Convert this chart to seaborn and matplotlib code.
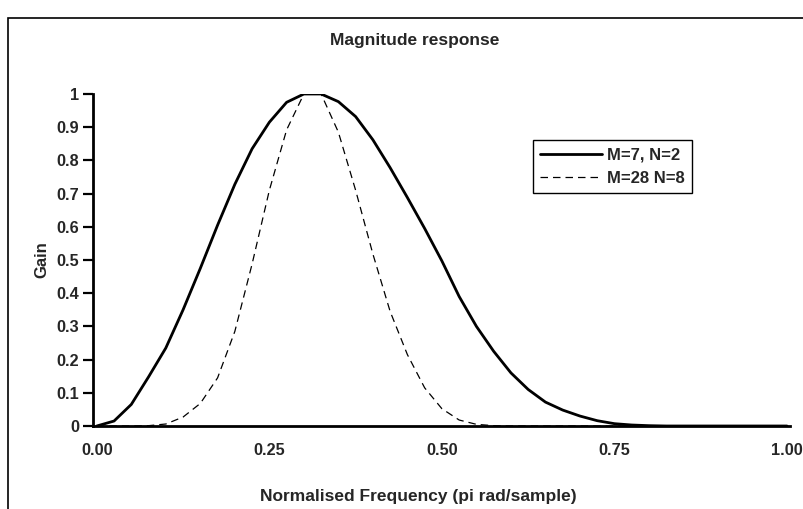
import matplotlib
matplotlib.use("Agg")
import matplotlib.pyplot as plt
import seaborn as sns
import pandas as pd
from matplotlib.patches import Rectangle
from matplotlib.lines import Line2D

# ---- data ----
freq = [0.000, 0.025, 0.050, 0.075, 0.100, 0.125, 0.150, 0.175, 0.200, 0.225,
        0.250, 0.275, 0.300, 0.325, 0.350, 0.375, 0.400, 0.425, 0.450, 0.475,
        0.500, 0.525, 0.550, 0.575, 0.600, 0.625, 0.650, 0.675, 0.700, 0.725,
        0.750, 0.775, 0.800, 0.825, 0.850, 0.875, 0.900, 0.925, 0.950, 0.975,
        1.000]
gain_m7_n2 = [0.000, 0.015, 0.065, 0.148, 0.235, 0.350, 0.475, 0.605, 0.728, 0.835,
              0.915, 0.975, 1.000, 1.000, 0.977, 0.932, 0.862, 0.778, 0.688, 0.595,
              0.497, 0.390, 0.300, 0.225, 0.160, 0.110, 0.072, 0.048, 0.030, 0.016,
              0.007, 0.003, 0.001, 0.000, 0.000, 0.000, 0.000, 0.000, 0.000, 0.000,
              0.000]
gain_m28_n8 = [0.000, 0.000, 0.000, 0.001, 0.006, 0.027, 0.068, 0.145, 0.285, 0.488,
               0.710, 0.892, 1.000, 1.000, 0.885, 0.710, 0.518, 0.345, 0.215, 0.115,
               0.052, 0.018, 0.005, 0.001, 0.000, 0.000, 0.000, 0.000, 0.000, 0.000,
               0.000, 0.000, 0.000, 0.000, 0.000, 0.000, 0.000, 0.000, 0.000, 0.000,
               0.000]
series_names = ["M=7, N=2", "M=28 N=8"]
x_ticks = [0.0, 0.25, 0.5, 0.75, 1.0]
x_tick_labels = ["0.00", "0.25", "0.50", "0.75", "1.00"]
y_ticks = [0, 0.1, 0.2, 0.3, 0.4, 0.5, 0.6, 0.7, 0.8, 0.9, 1]
y_tick_labels = ["0", "0.1", "0.2", "0.3", "0.4", "0.5", "0.6", "0.7", "0.8", "0.9", "1"]

df = pd.DataFrame({
    "freq": freq * 2,
    "gain": gain_m7_n2 + gain_m28_n8,
    "series": [series_names[0]] * len(freq) + [series_names[1]] * len(freq),
})

sns.set_theme(style="white")
plt.rcParams["font.family"] = ["Liberation Sans", "DejaVu Sans"]
plt.rcParams["font.weight"] = "bold"

W, H = 804, 509
fig = plt.figure(figsize=(W / 100, H / 100), dpi=100)
fig.patch.set_facecolor("white")

# axes placement in pixels
left, right, top, bottom = 93, 790, 94, 426
ax = fig.add_axes([left / W, 1 - bottom / H, (right - left) / W, (bottom - top) / H])

sns.lineplot(data=df, x="freq", y="gain", hue="series", style="series",
             palette=["black", "black"],
             dashes={series_names[0]: "", series_names[1]: (6, 4)},
             size="series", sizes={series_names[0]: 2.0, series_names[1]: 0.9},
             ax=ax, legend=False, sort=False)

ax.set_xlim(-0.0055, 1.0043)
ax.set_ylim(0, 1)
ax.set_xticks(x_ticks)
ax.set_xticklabels(x_tick_labels, fontsize=11.7, fontweight="bold")
ax.set_yticks(y_ticks)
ax.set_yticklabels(y_tick_labels, fontsize=11.7, fontweight="bold")
ax.tick_params(axis="y", direction="out", length=7, width=1.6, color="black", pad=3, left=True)
ax.tick_params(axis="x", length=0, pad=12)
for s in ["top", "right"]:
    ax.spines[s].set_visible(False)
for s in ["left", "bottom"]:
    ax.spines[s].set_color("black")
    ax.spines[s].set_linewidth(2.0)
ax.grid(False)

ax.set_xlabel("")
ax.set_ylabel("Gain", fontsize=12, fontweight="bold", labelpad=5)
fig.text(418 / W, 1 - 496 / H, "Normalised Frequency (pi rad/sample)", ha="center",
         va="center", fontsize=12.5, fontweight="bold")
fig.text(415 / W, 1 - 41 / H, "Magnitude response", ha="center", va="center",
         fontsize=12.5, fontweight="bold")

# legend
handles = [Line2D([], [], color="black", lw=2.0),
           Line2D([], [], color="black", lw=0.9, dashes=(6, 4))]
leg = fig.legend(handles, series_names, loc="upper left",
                 bbox_to_anchor=(533 / W, 1 - 140 / H), bbox_transform=fig.transFigure,
                 frameon=True, fancybox=False, edgecolor="black", framealpha=1,
                 prop={"size": 12, "weight": "bold"}, handlelength=3.7,
                 handletextpad=0.3, borderpad=0.45, labelspacing=0.5, borderaxespad=0)
leg.get_frame().set_linewidth(1.0)

# outer chart frame (top and left visible)
fig.patches.append(Rectangle((8 / W, -0.05), 1.1, (1 - 18 / H) + 0.05,
                             transform=fig.transFigure, fill=False,
                             edgecolor="black", linewidth=1.2, clip_on=False))

fig.savefig("out.png", dpi=100)
